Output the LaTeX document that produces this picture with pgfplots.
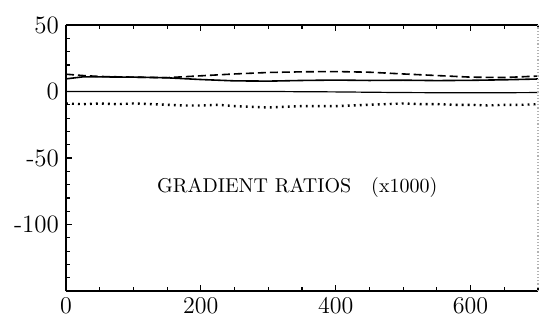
\documentclass[border=0pt]{standalone}
\usepackage{pgfplots}
\pgfplotsset{compat=1.18}

\begin{document}
\begin{tikzpicture}
\useasboundingbox (-33pt,-15pt) rectangle (237pt,145.5pt);
\begin{axis}[
    scale only axis,
    width=236pt, height=133pt,
    xmin=0, xmax=700,
    ymin=-150, ymax=50,
    axis x line*=box,
    axis y line*=left,
    axis line style={line width=0.9pt},
    xtick={0,200,400,600},
    minor xtick={50,100,...,700},
    ytick={-100,-50,0,50},
    yticklabels={-100,-50,0,50},
    minor ytick={-140,-130,...,40},
    tick align=inside,
    major tick length=3pt,
    minor tick length=2pt,
    every tick/.style={black, line width=0.6pt},
    tick label style={font=\fontsize{12.5}{14}\selectfont},
    clip=false,
]
% reference line near zero
\addplot[black, line width=0.6pt] coordinates {
 (0,0) (100,0) (200,0) (300,0) (400,-0.3) (500,-0.8) (600,-1) (700,-0.8)};
% upper solid ratio
\addplot[black, line width=0.8pt] coordinates {
 (0,9.5) (25,11) (50,11) (100,10.8) (150,10.3) (200,9) (250,8) (300,7.8)
 (350,8.3) (400,8.6) (450,8.3) (500,8.5) (550,8.2) (600,8.4) (650,8.8) (700,9.4)};
% dashed ratio
\addplot[black, line width=0.8pt, dash pattern=on 4pt off 2pt] coordinates {
 (0,13) (25,12) (50,11.3) (100,10.8) (150,10.4) (200,11.8) (250,13.2) (300,14.3)
 (350,14.8) (400,15) (450,14.5) (500,13.2) (550,12) (600,10.8) (650,10.5) (700,11.6)};
% dotted ratio
\addplot[black, line width=1.2pt, dash pattern=on 0.9pt off 2.1pt] coordinates {
 (0,-9) (25,-9.5) (50,-9) (75,-9.5) (100,-9) (125,-9.5) (150,-10) (175,-10.5)
 (200,-10.5) (225,-10) (250,-11) (275,-11.5) (300,-12) (325,-11.5) (350,-11)
 (375,-11) (400,-11) (425,-10.5) (450,-10) (475,-9.5) (500,-9) (525,-9.5)
 (550,-9.5) (575,-10) (600,-10) (625,-10.5) (650,-10) (675,-10) (700,-9.5)};
\node at (axis cs:343,-72.5) {GRADIENT RATIOS\quad(x1000)};
\draw[gray!60, densely dotted, line width=0.6pt] (rel axis cs:1,0) -- (rel axis cs:1,1);
\end{axis}
\end{tikzpicture}
\end{document}
